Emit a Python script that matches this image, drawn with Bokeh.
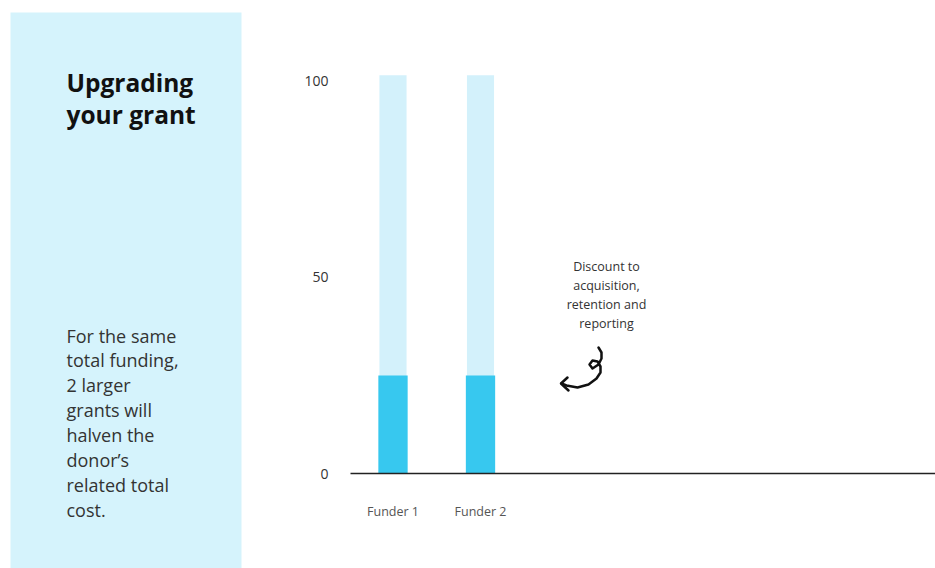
from bokeh.plotting import figure
from bokeh.models import Range1d, FixedTicker, ColumnDataSource
from bokeh.core.properties import value
from bokeh.embed import file_html
from bokeh.resources import INLINE

# ---- data ----
funders = ["Funder 1", "Funder 2"]
funder_pos = [1, 2]
total_cost = [101.5, 101.5]
discounted_cost = [25, 25]
y_ticks = [0, 50, 100]

title_text = "Upgrading\nyour grant"
body_text = "For the same\ntotal funding,\n2 larger\ngrants will\nhalven the\ndonor\u2019s\nrelated total\ncost."
note_text = "Discount to\nacquisition,\nretention and\nreporting"

FONT = "Open Sans"
PANEL = "#d5f3fc"
LIGHT = "#d3f1fb"
DARK = "#37c8ef"

W, H = 935, 568
# pixel geometry of the data area
X1_PX, UX = 392.5, 87.5        # px of x=1, px per x unit
Y0_PX, UY = 473.0, 3.924       # px of y=0, px per y unit
AXIS_LEFT_PX = 350.0

def dx(px):
    return 1 + (px - X1_PX) / UX

def dy(py):
    return (Y0_PX - py) / UY

p = figure(width=W, height=H, x_range=Range1d(dx(0), dx(W)), y_range=Range1d(dy(H), dy(0)),
           output_backend="svg", toolbar_location=None, min_border=0)
p.extra_x_ranges = {"px": Range1d(0, W)}
p.extra_y_ranges = {"px": Range1d(H, 0)}
p.grid.visible = False
p.outline_line_color = None
p.background_fill_color = "white"
p.border_fill_color = "white"

# ---- left panel ----
p.quad(left=[10], right=[241], top=[12], bottom=[H], fill_color=PANEL, line_color=None,
       x_range_name="px", y_range_name="px")
p.text(x=[66], y=[65], text=[title_text], text_font=value(FONT), text_font_style="bold",
       text_font_size="24.5px", text_color="#111111", text_baseline="top", text_align="left",
       text_line_height=0.97, x_range_name="px", y_range_name="px")
p.text(x=[66], y=[323], text=[body_text], text_font=value(FONT),
       text_font_size="18px", text_color="#333333", text_baseline="top", text_align="left",
       text_line_height=1.04, x_range_name="px", y_range_name="px")

# ---- bars ----
src = ColumnDataSource(dict(x=funder_pos, total=total_cost, disc=discounted_cost))
p.vbar(x="x", top="total", bottom=0, width=0.31, source=src, fill_color=LIGHT, line_color=None)
p.vbar(x="x", top="disc", bottom=0, width=0.335, source=src, fill_color=DARK, line_color=None)

# x axis
xa = p.xaxis[0]
xa.fixed_location = 0
xa.bounds = (dx(AXIS_LEFT_PX), dx(W))
xa.ticker = FixedTicker(ticks=funder_pos)
xa.major_label_overrides = {pos: name for pos, name in zip(funder_pos, funders)}
xa.axis_line_color = "#222222"
xa.axis_line_width = 1.5
xa.major_tick_line_color = None
xa.minor_tick_line_color = None
xa.major_label_standoff = 23
xa.major_label_text_font = FONT
xa.major_label_text_font_size = "12.5px"
xa.major_label_text_color = "#555555"

# y axis
ya = p.yaxis[0]
ya.fixed_location = dx(AXIS_LEFT_PX)
ya.ticker = FixedTicker(ticks=y_ticks)
ya.axis_line_color = None
ya.major_tick_line_color = None
ya.minor_tick_line_color = None
ya.major_label_standoff = 16
ya.major_label_text_font = FONT
ya.major_label_text_font_size = "14px"
ya.major_label_text_color = "#333333"

# annotation text
p.text(x=[dx(606)], y=[dy(257)], text=[note_text], text_font=value(FONT), text_font_size="12.5px",
       text_color="#333333", text_align="center", text_baseline="top", text_line_height=1.13)

# curly arrow (decoration)
arrow_px = [(598, 347), (601, 352), (601, 358), (598, 364), (592, 368), (589, 364), (592, 360),
            (597, 361), (600, 366), (600, 372), (596, 378), (588, 384), (577, 387), (566, 385),
            (561, 383)]
p.line([dx(a) for a, b in arrow_px], [dy(b) for a, b in arrow_px], line_color="#111111",
       line_width=2.5, line_cap="round", line_join="round")
head = [(567, 377), (560.5, 383), (568, 390)]
p.line([dx(a) for a, b in head], [dy(b) for a, b in head], line_color="#111111",
       line_width=2.5, line_cap="round", line_join="round")

open("out.html", "w").write(file_html(p, INLINE))
